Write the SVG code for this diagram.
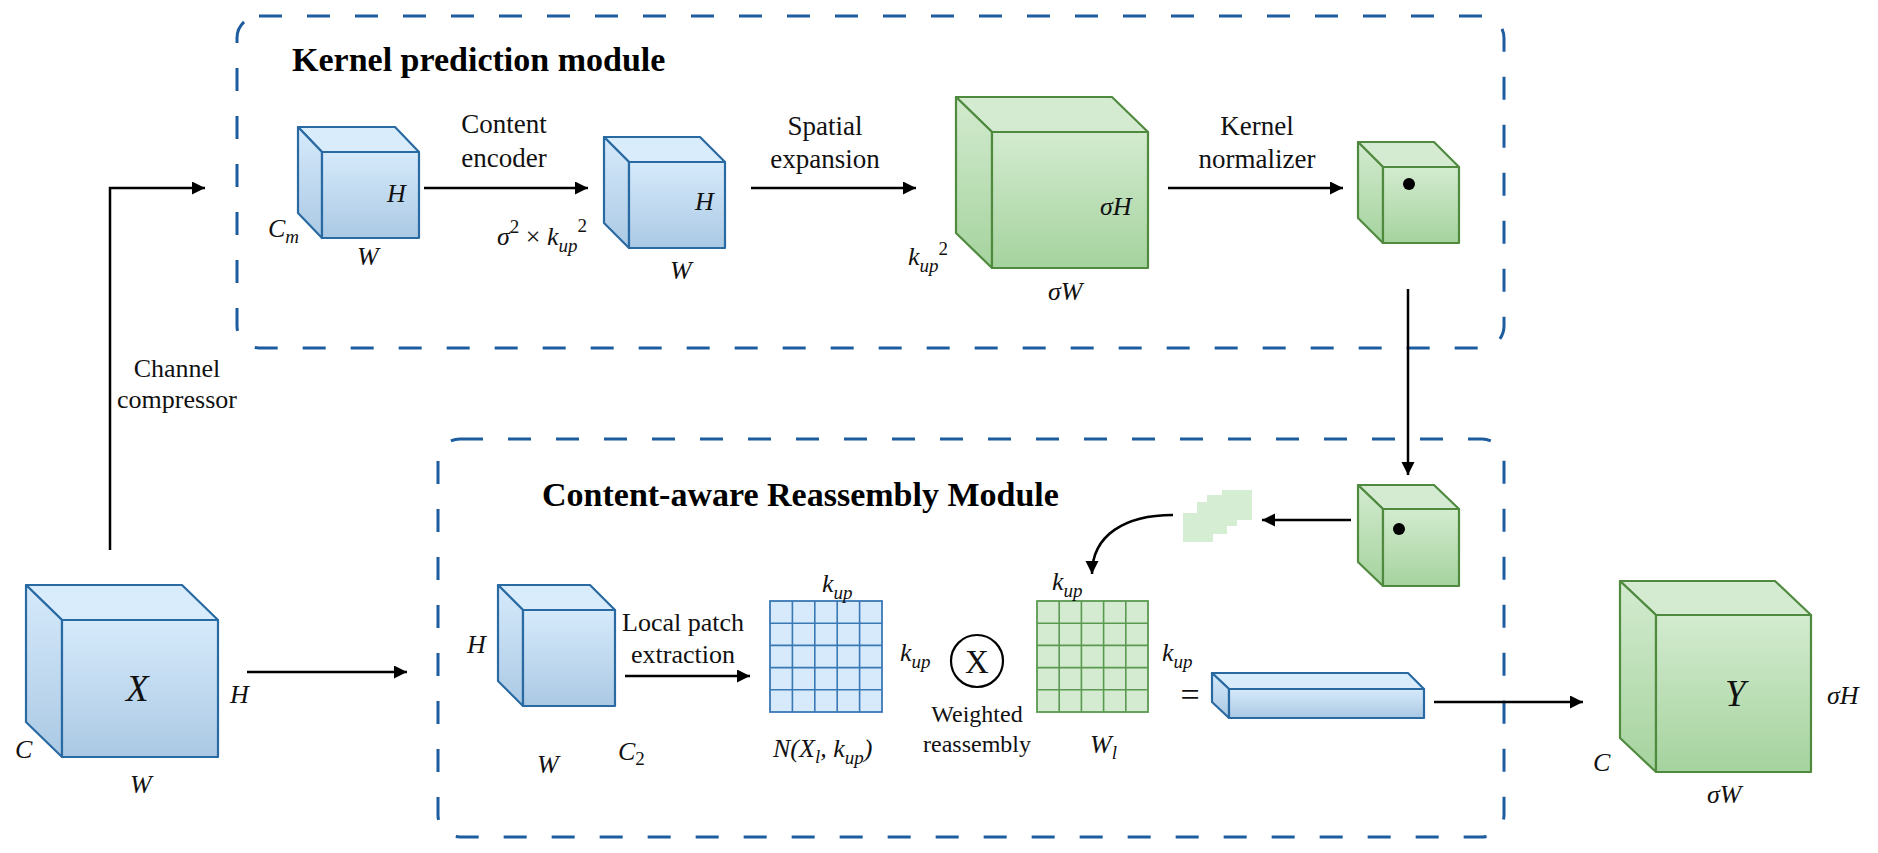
<svg xmlns="http://www.w3.org/2000/svg" width="1878" height="853" viewBox="0 0 1878 853">
<defs>
<linearGradient id="gb" x1="0" y1="0" x2="0" y2="1"><stop offset="0" stop-color="#d6eafb"/><stop offset="1" stop-color="#abc9e4"/></linearGradient>
<linearGradient id="gg" x1="0" y1="0" x2="0" y2="1"><stop offset="0" stop-color="#d3ebcf"/><stop offset="1" stop-color="#a5d39e"/></linearGradient>
<marker id="ah" markerUnits="userSpaceOnUse" markerWidth="14" markerHeight="14" refX="13" refY="6.5" orient="auto"><path d="M0,0 L13,6.5 L0,13 z" fill="#000"/></marker>
<style>
.box{fill:none;stroke:#1d5c9e;stroke-width:3;stroke-dasharray:23 25}
.bc{stroke:#2a6aa3;stroke-width:2.2;stroke-linejoin:round}
.bc .t{fill:#d8ecfc}.bc .f,.bc .l{fill:url(#gb)}
.gc{stroke:#4f8a3f;stroke-width:2.2;stroke-linejoin:round}
.gc .t{fill:#d4ebd1}.gc .f,.gc .l{fill:url(#gg)}
.conn path,.conn line,.conn polyline{fill:none;stroke:#000;stroke-width:2.5;marker-end:url(#ah)}
text{font-family:"Liberation Serif","Times New Roman",serif;fill:#111}
.ttl{font-weight:bold;font-size:34px;fill:#000}
.lbl{font-size:27px;text-anchor:middle}
.lbl26{font-size:26px;text-anchor:middle}
.lbl23{font-size:24px;text-anchor:middle}
.it{font-style:italic;font-size:26px}
.big{font-style:italic;font-size:37px}
.sub{font-size:19px}
</style>
</defs>
<rect width="1878" height="853" fill="#fff"/>

<g id="kernel-module">
<rect class="box" x="237" y="16" width="1267" height="332" rx="22"/>
<text class="ttl" x="292" y="71">Kernel prediction module</text>
</g>
<g id="reassembly-module">
<rect class="box" x="438" y="439" width="1066" height="398" rx="22"/>
<text class="ttl" x="542" y="506">Content-aware Reassembly Module</text>
</g>

<g id="connectors" class="conn">
<polyline points="110,550 110,188 205,188"/>
<line x1="424" y1="188" x2="588" y2="188"/>
<line x1="751" y1="188" x2="916" y2="188"/>
<line x1="1168" y1="188" x2="1343" y2="188"/>
<line x1="1408" y1="289" x2="1408" y2="475"/>
<line x1="1351" y1="520" x2="1262" y2="520"/>
<path d="M1173,515 C1125,515 1092,535 1092,574"/>
<line x1="247" y1="672" x2="407" y2="672"/>
<line x1="625" y1="676" x2="750" y2="676"/>
<line x1="1434" y1="702" x2="1583" y2="702"/>
</g>

<g id="labels-connectors">
<text class="lbl26" x="177" y="377">Channel</text>
<text class="lbl26" x="177" y="408">compressor</text>
<text class="lbl" x="504" y="133">Content</text>
<text class="lbl" x="504" y="167">encoder</text>
<text class="lbl" x="825" y="135">Spatial</text>
<text class="lbl" x="825" y="168">expansion</text>
<text class="lbl" x="1257" y="135">Kernel</text>
<text class="lbl" x="1257" y="168">normalizer</text>
<text class="lbl26" x="683" y="631">Local patch</text>
<text class="lbl26" x="683" y="663">extraction</text>
</g>

<g id="cube-cm" class="bc">
<polygon class="t" points="298,127 395,127 419,152 322,152"/>
<polygon class="l" points="298,127 322,152 322,238 298,213"/>
<rect class="f" x="322" y="152" width="97" height="86"/>
<g stroke="none"><text class="it" x="387" y="202">H</text>
<text class="it" x="268" y="237">C<tspan class="sub" dy="6">m</tspan></text>
<text class="it" x="357" y="265">W</text></g>
</g>

<g id="cube-encoded" class="bc">
<polygon class="t" points="604,137 700,137 725,162 629,162"/>
<polygon class="l" points="604,137 629,162 629,248 604,223"/>
<rect class="f" x="629" y="162" width="96" height="86"/>
<g stroke="none"><text class="it" x="695" y="210">H</text>
<text class="it" x="670" y="279">W</text>
<text class="it" x="497" y="245">σ<tspan class="sub" dy="-12" font-style="normal">2</tspan><tspan dy="12" font-style="normal"> × </tspan>k<tspan class="sub" dy="7">up</tspan><tspan class="sub" dy="-20" font-style="normal">2</tspan></text></g>
</g>

<g id="cube-expanded" class="gc">
<polygon class="t" points="956,97 1112,97 1148,132 992,132"/>
<polygon class="l" points="956,97 992,132 992,268 956,233"/>
<rect class="f" x="992" y="132" width="156" height="136"/>
<g stroke="none"><text class="it" x="1100" y="215">σH</text>
<text class="it" x="1048" y="300">σW</text>
<text class="it" x="908" y="265">k<tspan class="sub" dy="7">up</tspan><tspan class="sub" dy="-17" font-style="normal">2</tspan></text></g>
</g>

<g id="cube-normalized" class="gc">
<polygon class="t" points="1358,142 1434,142 1459,167 1383,167"/>
<polygon class="l" points="1358,142 1383,167 1383,243 1358,218"/>
<rect class="f" x="1383" y="167" width="76" height="76"/>
<circle cx="1409" cy="184" r="6" fill="#000" stroke="none"/>
</g>

<g id="cube-kernel" class="gc">
<polygon class="t" points="1358,485 1434,485 1459,509 1383,509"/>
<polygon class="l" points="1358,485 1383,509 1383,586 1358,562"/>
<rect class="f" x="1383" y="509" width="76" height="77"/>
<circle cx="1399" cy="529" r="6" fill="#000" stroke="none"/>
</g>

<g id="kernel-slices">
<polygon fill="#d5edd2" points="1222,490 1252,490 1252,520 1237,520 1237,526 1227,526 1227,534 1213,534 1213,542 1183,542 1183,513 1197,513 1197,502 1207,502 1207,495 1222,495"/>
</g>

<g id="cube-x" class="bc">
<polygon class="t" points="26,585 182,585 218,620 62,620"/>
<polygon class="l" points="26,585 62,620 62,757 26,722"/>
<rect class="f" x="62" y="620" width="156" height="137"/>
<g stroke="none"><text class="big" x="126" y="701">X</text>
<text class="it" x="230" y="703">H</text>
<text class="it" x="15" y="758">C</text>
<text class="it" x="130" y="793">W</text></g>
</g>

<g id="cube-c2" class="bc">
<polygon class="t" points="498,585 590,585 615,610 523,610"/>
<polygon class="l" points="498,585 523,610 523,706 498,681"/>
<rect class="f" x="523" y="610" width="92" height="96"/>
<g stroke="none"><text class="it" x="467" y="653">H</text>
<text class="it" x="537" y="773">W</text>
<text class="it" x="618" y="760">C<tspan class="sub" dy="5" font-style="normal">2</tspan></text></g>
</g>

<g id="grid-patch">
<rect x="770" y="601" width="112" height="111" fill="#d6eafb" stroke="#3a78b5" stroke-width="1.8"/>
<path d="M792.4,601V712M814.8,601V712M837.2,601V712M859.6,601V712M770,623.2H882M770,645.4H882M770,667.6H882M770,689.8H882" stroke="#3a78b5" stroke-width="1.6" fill="none"/>
<text class="it" x="822" y="592">k<tspan class="sub" dy="7">up</tspan></text>
<text class="it" x="900" y="661">k<tspan class="sub" dy="7">up</tspan></text>
<text class="it" x="773" y="757">N(X<tspan class="sub" dy="6">l</tspan><tspan dy="-6">, k</tspan><tspan class="sub" dy="7">up</tspan><tspan dy="-7">)</tspan></text>
</g>

<g id="op-multiply">
<circle cx="977" cy="661" r="26" fill="#fff" stroke="#000" stroke-width="2.2"/>
<text class="lbl" x="977" y="673" style="font-size:33px">X</text>
<text class="lbl23" x="977" y="722">Weighted</text>
<text class="lbl23" x="977" y="752">reassembly</text>
</g>

<g id="grid-kernel">
<rect x="1037" y="601" width="111" height="111" fill="#d4ebd1" stroke="#5a9a50" stroke-width="1.8"/>
<path d="M1059.2,601V712M1081.4,601V712M1103.6,601V712M1125.8,601V712M1037,623.2H1148M1037,645.4H1148M1037,667.6H1148M1037,689.8H1148" stroke="#5a9a50" stroke-width="1.6" fill="none"/>
<text class="it" x="1052" y="590">k<tspan class="sub" dy="7">up</tspan></text>
<text class="it" x="1162" y="661">k<tspan class="sub" dy="7">up</tspan></text>
<text class="it" x="1090" y="753">W<tspan class="sub" dy="6">l</tspan></text>
</g>

<g id="equals">
<text class="lbl" x="1190" y="706" style="font-size:34px">=</text>
</g>

<g id="bar-output" class="bc">
<polygon class="t" points="1212,673 1408,673 1424,689 1229,689"/>
<polygon class="l" points="1212,673 1229,689 1229,718 1212,702"/>
<rect class="f" x="1229" y="689" width="195" height="29"/>
</g>

<g id="cube-y" class="gc">
<polygon class="t" points="1620,581 1775,581 1811,615 1656,615"/>
<polygon class="l" points="1620,581 1656,615 1656,772 1620,738"/>
<rect class="f" x="1656" y="615" width="155" height="157"/>
<g stroke="none"><text class="big" x="1725" y="706">Y</text>
<text class="it" x="1827" y="704">σH</text>
<text class="it" x="1593" y="771">C</text>
<text class="it" x="1707" y="803">σW</text></g>
</g>
</svg>
